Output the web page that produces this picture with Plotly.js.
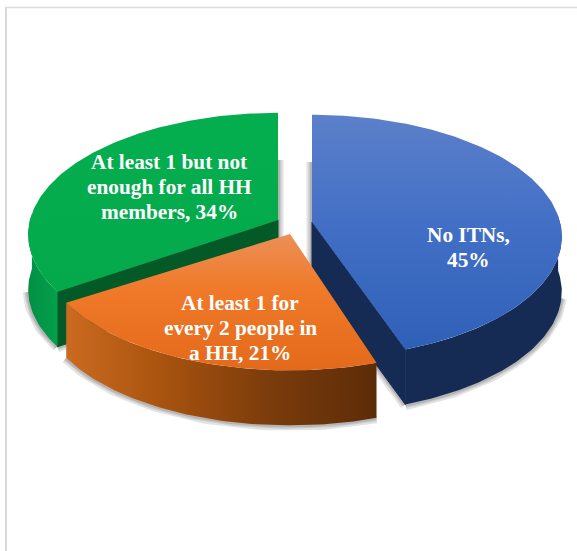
<!DOCTYPE html>
<html>
<head>
<meta charset="utf-8">
<script src="https://cdn.plot.ly/plotly-3.0.1.min.js"></script>
<style>html,body{margin:0;padding:0;background:#fff}#c{width:577px;height:551px}</style>
</head>
<body>
<div id="c"></div>
<script>
// Data
var categories = ['No ITNs', 'At least 1 for every 2 people in a HH', 'At least 1 but not enough for all HH members'];
var values = [45, 21, 34];
var labelLines = [['No ITNs,', '{v}%'], ['At least 1 for', 'every 2 people in', 'a HH, {v}%'], ['At least 1 but not', 'enough for all HH', 'members, {v}%']];

// Projection of a tilted disc, in pixel-like axis units
var A = 248, B = 120, K = 0.12, DEPTH = 55, LINE_GAP = 25;
var look = [
  {apex:[312,222], labelX:468, labelY:235, trim:[0,-1.5],
   top:[[0,'#2f60b8'],[0.55,'#4370c6'],[1,'#5c80ca']], wall:[[0,'#162b53'],[1,'#162b53']], inner:'#162b53'},
  {apex:[290,234], labelX:240, labelY:303, trim:[0,0],
   top:[[0,'#e36a1a'],[0.6,'#f07a2a'],[1,'#ec8f57']], wall:[[0,'#cb6a20'],[0.3,'#a9540f'],[0.65,'#7c3c0c'],[1,'#5c2c08']], inner:null},
  {apex:[278,220], labelX:169, labelY:162, trim:[-1.5,0],
   top:[[0,'#04a94c'],[1,'#04ae4f']], wall:[[0,'#019045'],[1,'#03a04a']], inner:'#045a27'}
];

function pt(apex, deg, dy) {
  var t = deg * Math.PI / 180, X = Math.sin(t), Y = -Math.cos(t), w = 1 - K * Y;
  return [apex[0] + A * X / w, apex[1] + B * Y / w + (dy || 0)];
}
function arc(apex, a, b, dy) {
  var out = [], n = Math.max(2, Math.round(Math.abs(b - a)));
  for (var i = 0; i <= n; i++) out.push(pt(apex, a + (b - a) * i / n, dy));
  return out;
}
function poly(points, fill, name, edge) {
  var xs = points.map(function(p){return p[0];}), ys = points.map(function(p){return p[1];});
  xs.push(xs[0]); ys.push(ys[0]);
  var tr = {type:'scatter', mode:'lines', x:xs, y:ys, fill:'toself', line: edge ? {width:1, color:edge} : {width:0}, hoverinfo:'skip', showlegend:false, name:name};
  if (typeof fill === 'string') tr.fillcolor = fill; else tr.fillgradient = fill;
  return tr;
}
function glow(points) {
  return [11, 7, 4].map(function(w){
    return {type:'scatter', mode:'lines', x:points.map(function(p){return p[0];}), y:points.map(function(p){return p[1];}),
      line:{width:w, color:'rgba(40,40,40,0.13)'}, hoverinfo:'skip', showlegend:false};
  });
}

var total = values.reduce(function(a,b){return a+b;}, 0), cum = 0, spans = [];
values.forEach(function(v, i){
  spans.push([cum/total*360 + look[i].trim[0], (cum+v)/total*360 + look[i].trim[1]]);
  cum += v;
});

var traces = [], annotations = [];
function rimRange(s){ return [Math.max(s[0],87), Math.min(s[1],273)]; }

// soft shadows first
[2,0,1].forEach(function(i){
  var s = spans[i], r = rimRange(s), ap = look[i].apex;
  traces = traces.concat(glow(arc(ap, Math.max(r[0],100), Math.min(r[1],262), DEPTH)));
  if (i !== 1) {
    traces = traces.concat(glow([[ap[0], ap[1]-60],[ap[0], ap[1]+DEPTH]]));
    traces = traces.concat(glow([[ap[0], ap[1]+DEPTH], pt(ap, i===0 ? s[1] : s[0], DEPTH)]));
  }
});
// slices: back ones first, orange last
[2,0,1].forEach(function(i){
  var s = spans[i], L = look[i], ap = L.apex, r = rimRange(s);
  if (L.inner) {
    var edge = i === 0 ? s[1] : s[0], c = pt(ap, edge);
    traces.push(poly([ap, c, [c[0], c[1]+DEPTH], [ap[0], ap[1]+DEPTH]], L.inner, categories[i], L.inner));
  }
  traces.push(poly(arc(ap, r[0], r[1]).concat(arc(ap, r[1], r[0], DEPTH)), {type:'horizontal', colorscale:L.wall}, categories[i]));
  traces.push(poly([ap].concat(arc(ap, s[0], s[1])), {type:'vertical', colorscale:L.top}, categories[i]));
  labelLines[i].forEach(function(line, k){
    annotations.push({x:L.labelX, y:L.labelY + k*LINE_GAP, xref:'x', yref:'y', showarrow:false, align:'center',
      xanchor:'center', yanchor:'middle', text:line.replace('{v}', values[i]),
      font:{family:'"Liberation Serif", serif', size:21.3, color:'#ffffff', weight:700}});
  });
});

var layout = {
  width:577, height:551, margin:{l:0,r:0,t:0,b:0}, paper_bgcolor:'#fff', plot_bgcolor:'#fff', showlegend:false,
  xaxis:{range:[0,577], visible:false, fixedrange:true},
  yaxis:{range:[551,0], visible:false, fixedrange:true},
  annotations:annotations,
  shapes:[
    {type:'line', xref:'x', yref:'y', x0:6, x1:6, y0:7, y1:551, line:{color:'#d9d9d9', width:2}},
    {type:'line', xref:'x', yref:'y', x0:5, x1:577, y0:7.5, y1:7.5, line:{color:'#dcdcdc', width:1.5}}
  ]
};
Plotly.newPlot('c', traces, layout, {displayModeBar:false, staticPlot:true});
</script>
</body>
</html>
